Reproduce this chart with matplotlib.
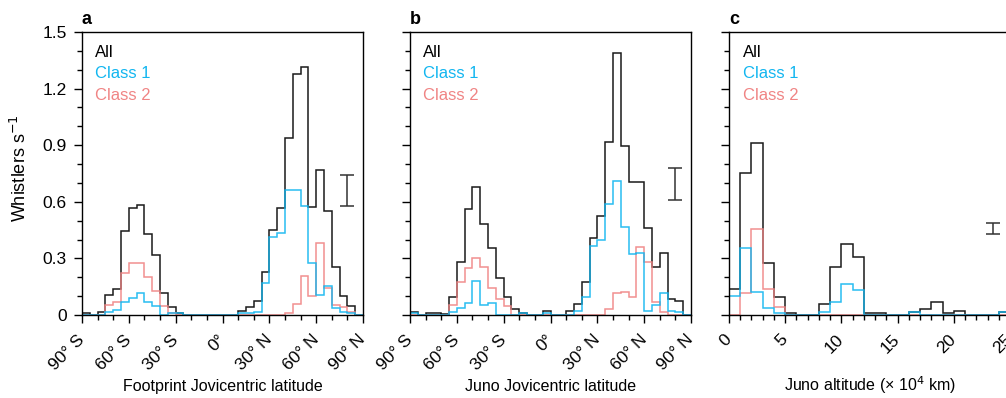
import matplotlib.pyplot as plt
import numpy as np
from matplotlib.ticker import MultipleLocator, FuncFormatter

plt.rcParams['font.family'] = ['Liberation Sans', 'DejaVu Sans']

# latitude bins, 5 degrees wide
lat_edges = np.arange(-90, 91, 5)
# altitude bins, 1 x 10^4 km wide
alt_edges = np.arange(0, 26, 1)

a_all = [0.01, 0, 0.014, 0.106, 0.136, 0.445, 0.565, 0.583, 0.428, 0.316, 0.118, 0.04,
         0.012, 0, 0, 0, 0, 0, 0, 0, 0.02, 0.04, 0.076, 0.23, 0.45, 0.565, 0.936, 1.277,
         1.316, 0.571, 0.77, 0.55, 0.256, 0.10, 0.048, 0]
a_c1 = [0, 0, 0, 0.018, 0.025, 0.07, 0.088, 0.118, 0.067, 0.048, 0, 0.01,
        0.01, 0, 0, 0, 0, 0, 0, 0, 0.01, 0.01, 0.018, 0.17, 0.415, 0.433, 0.66, 0.66,
        0.578, 0.274, 0.106, 0.154, 0.035, 0.018, 0.01, 0]
a_c2 = [0, 0, 0, 0.053, 0.067, 0.22, 0.274, 0.274, 0.2, 0.129, 0.048, 0.01,
        0, 0, 0, 0, 0, 0, 0, 0, 0, 0, 0, 0, 0, 0, 0.01, 0.058,
        0.207, 0.1, 0.383, 0.141, 0.053, 0.04, 0.018, 0]

b_all = [0.018, 0, 0.01, 0.012, 0.005, 0.097, 0.283, 0.56, 0.68, 0.48, 0.357, 0.194,
         0.097, 0.03, 0.012, 0, 0, 0.023, 0, 0, 0.023, 0.058, 0.173, 0.41, 0.525, 0.919,
         1.387, 0.896, 0.707, 0.707, 0.46, 0.256, 0.327, 0.085, 0.074, 0]
b_c1 = [0.01, 0, 0, 0, 0, 0.018, 0.035, 0.065, 0.18, 0.053, 0.065, 0,
        0, 0, 0.01, 0, 0, 0.012, 0, 0, 0, 0.023, 0.097, 0.366, 0.4, 0.588,
        0.71, 0.468, 0.323, 0.327, 0.023, 0.053, 0.115, 0.023, 0.014, 0]
b_c2 = [0, 0, 0, 0, 0, 0.053, 0.177, 0.25, 0.3, 0.256, 0.141, 0.085,
        0.048, 0, 0, 0, 0, 0, 0, 0, 0, 0, 0, 0, 0, 0.03,
        0.115, 0.12, 0.094, 0.359, 0.283, 0.071, 0.018, 0, 0, 0]

c_all = [0.136, 0.754, 0.913, 0.274, 0.094, 0.012, 0, 0, 0.058, 0.256, 0.375, 0.309,
         0.01, 0.01, 0, 0, 0.018, 0.03, 0.071, 0.012, 0.023, 0, 0, 0, 0.018]
c_c1 = [0.102, 0.357, 0.124, 0.035, 0.012, 0, 0, 0, 0.018, 0.067, 0.163, 0.133,
        0, 0, 0, 0, 0.014, 0, 0, 0, 0, 0, 0, 0, 0.018]
c_c2 = [0, 0.118, 0.454, 0.136, 0.044, 0, 0, 0, 0, 0, 0, 0,
        0, 0, 0, 0, 0, 0, 0, 0, 0, 0, 0, 0, 0]

# typical error bar (x, low, high)
err_a = (80, 0.58, 0.742)
err_b = (80, 0.61, 0.777)
err_c = (23.5, 0.43, 0.486)

lat_ticks = [-90, -60, -30, 0, 30, 60, 90]
lat_labels = ['90° S', '60° S', '30° S', '0°', '30° N', '60° N', '90° N']
alt_ticks = [0, 5, 10, 15, 20, 25]

BLACK = '#1a1a1a'
BLUE = '#12b6f0'
RED = '#f08484'

fig = plt.figure(figsize=(10.06, 3.98), dpi=100)
W, H = 1006, 398
bottom = (H - 315) / H
height = 283 / H
width = 281 / W
lefts = [82 / W, 410 / W, 729 / W]

panels = [
    ('a', lat_edges, a_all, a_c1, a_c2, err_a, 'Footprint Jovicentric latitude'),
    ('b', lat_edges, b_all, b_c1, b_c2, err_b, 'Juno Jovicentric latitude'),
    ('c', alt_edges, c_all, c_c1, c_c2, err_c, 'Juno altitude (× 10$^4$ km)'),
]

for i, (tag, edges, v_all, v1, v2, err, xlabel) in enumerate(panels):
    ax = fig.add_axes([lefts[i], bottom, width, height])
    ax.stairs(v_all, edges, color=BLACK, lw=1.1, baseline=0)
    ax.stairs(v2, edges, color=RED, lw=1.1, baseline=0, alpha=0.9)
    ax.stairs(v1, edges, color=BLUE, lw=1.1, baseline=0, alpha=0.9)

    x, lo, hi = err
    ax.errorbar([x], [(lo + hi) / 2], yerr=[(hi - lo) / 2], color='#333333',
                lw=1.1, capsize=5, capthick=1.1)

    ax.set_ylim(0, 1.5)
    ax.yaxis.set_major_locator(MultipleLocator(0.3))
    ax.yaxis.set_minor_locator(MultipleLocator(0.1))
    ax.yaxis.set_major_formatter(FuncFormatter(lambda v, p: '0' if abs(v) < 1e-9 else f'{v:.1f}'))
    if tag == 'c':
        ax.set_xlim(0, 25)
        ax.set_xticks(alt_ticks)
        ax.set_xticklabels([str(t) for t in alt_ticks])
        ax.xaxis.set_minor_locator(MultipleLocator(1))
    else:
        ax.set_xlim(-90, 90)
        ax.set_xticks(lat_ticks)
        ax.set_xticklabels(lat_labels)
        ax.xaxis.set_minor_locator(MultipleLocator(10))

    ax.tick_params(which='major', direction='out', length=6, width=1, labelsize=12.5, pad=5)
    ax.tick_params(axis='x', which='major', labelsize=12.5, pad=10)
    ax.tick_params(which='minor', direction='out', length=3.5, width=1)
    for lab in ax.get_xticklabels():
        lab.set_rotation(45)
        lab.set_ha('right')
        lab.set_va('center')
        lab.set_rotation_mode('anchor')
    if i > 0:
        ax.set_yticklabels([])
    for s in ax.spines.values():
        s.set_linewidth(1)

    fig.text(lefts[i] + width / 2, 1 - 391 / H, xlabel, fontsize=11.5,
             ha='center', va='baseline')

    ax.text(0.0, 1.015, tag, transform=ax.transAxes, fontsize=13, weight='bold',
            ha='left', va='bottom')
    lx = 0.046 if i < 2 else 0.05
    ax.text(lx, 0.926, 'All', color='black', fontsize=12, transform=ax.transAxes, va='center')
    ax.text(lx, 0.853, 'Class 1', color=BLUE, fontsize=12, transform=ax.transAxes, va='center')
    ax.text(lx, 0.776, 'Class 2', color=RED, fontsize=12, transform=ax.transAxes, va='center')

fig.text(20 / W, 1 - 168 / H, 'Whistlers s$^{-1}$', rotation=90, fontsize=13,
         ha='center', va='center')

fig.savefig('out.png', dpi=100)
